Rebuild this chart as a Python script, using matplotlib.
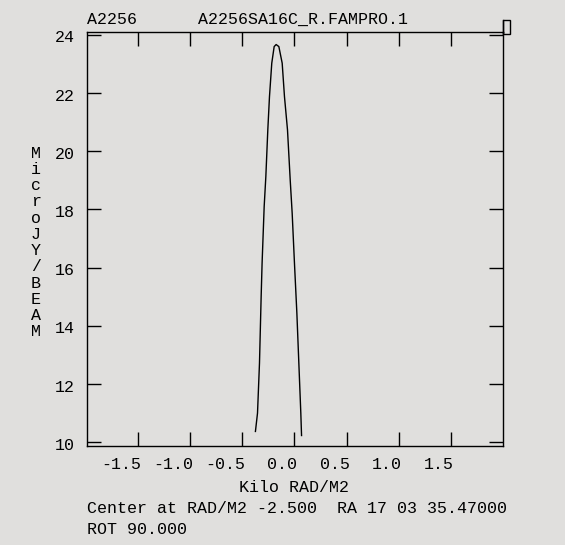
import numpy as np
import matplotlib
matplotlib.use("Agg")
from matplotlib import pyplot as plt
from matplotlib.patches import Rectangle
import matplotlib.transforms as mtransforms

# Faraday depth profile (Kilo RAD/M2 vs MicroJY/BEAM)
rm = [-0.375, -0.355, -0.336, -0.320, -0.311, -0.291, -0.275, -0.256, -0.240,
      -0.218, -0.195, -0.176, -0.150, -0.118, -0.096, -0.067, -0.041, -0.022,
      0.000, 0.023, 0.042, 0.061, 0.068]
flux = [10.37, 11.00, 12.72, 15.01, 16.15, 18.10, 19.13, 20.74, 21.88,
        23.03, 23.60, 23.67, 23.60, 23.03, 21.88, 20.74, 19.02, 17.87,
        16.15, 14.44, 12.72, 11.00, 10.23]

xticks = [-1.5, -1.0, -0.5, 0.0, 0.5, 1.0, 1.5]
xlabels = ["-1.5", "-1.0", "-0.5", "0.0", "0.5", "1.0", "1.5"]
yticks = [10, 12, 14, 16, 18, 20, 22, 24]

BG = "#e0dfdd"
FONT = "Liberation Mono"
FS = 12

fig = plt.figure(figsize=(5.65, 5.45), dpi=100, facecolor=BG)
ax = fig.add_axes([0.1545, 0.1822, 0.7352, 0.7585], facecolor=BG)

ax.plot(rm, flux, color="black", lw=1.0)

ax.set_xlim(-1.99, 2.0)
ax.set_ylim(9.88, 24.09)
ax.set_xticks(xticks)
ax.set_yticks(yticks)
ax.set_xticklabels([])
ax.set_yticklabels([])
ax.tick_params(direction="in", length=10, width=1.0, top=True, right=True,
               colors="black")
for s in ax.spines.values():
    s.set_linewidth(1.0)
    s.set_color("black")

# x tick labels sit just left of their ticks
off = mtransforms.ScaledTranslation(3 / 100, 0, fig.dpi_scale_trans)
for xv, lab in zip(xticks, xlabels):
    ax.text(xv, -0.045, lab, transform=mtransforms.blended_transform_factory(
        ax.transData, ax.transAxes) + off, ha="right", va="center",
        family=FONT, fontsize=FS)

# y tick labels
yoff = mtransforms.ScaledTranslation(0, -3 / 100, fig.dpi_scale_trans)
for yv in yticks:
    ax.text(-0.031, yv, str(yv), transform=mtransforms.blended_transform_factory(
        ax.transAxes, ax.transData) + yoff, ha="right", va="center",
        family=FONT, fontsize=FS)

# stacked y label
fig.text(36 / 565, 1 - 242.5 / 545, "\n".join("MicroJY/BEAM"), ha="center",
         va="center", family=FONT, fontsize=FS, linespacing=1.1)

fig.text(87 / 565, 1 - 19 / 545, "A2256", ha="left", va="center",
         family=FONT, fontsize=FS)
fig.text(198 / 565, 1 - 19 / 545, "A2256SA16C_R.FAMPRO.1", ha="left",
         va="center", family=FONT, fontsize=FS)

fig.text(294 / 565, 1 - 488 / 545, "Kilo RAD/M2", ha="center", va="center",
         family=FONT, fontsize=FS)
fig.text(87 / 565, 1 - 508.5 / 545, "Center at RAD/M2 -2.500  RA 17 03 35.47000",
         ha="left", va="center", family=FONT, fontsize=FS)
fig.text(87 / 565, 1 - 529 / 545, "ROT 90.000", ha="left", va="center",
         family=FONT, fontsize=FS)

# small box at the top right corner
fig.add_artist(Rectangle((0.8897, 1 - 34 / 545), 7.3 / 565, 13.7 / 545,
                         transform=fig.transFigure, fill=False,
                         edgecolor="black", lw=1.0))
fig.add_artist(plt.Line2D([0.8897, 0.8897], [1 - 34 / 545, 1 - 20.3 / 545],
                          transform=fig.transFigure, color="black", lw=1.0))

fig.savefig("out.png", dpi=100, facecolor=BG)
